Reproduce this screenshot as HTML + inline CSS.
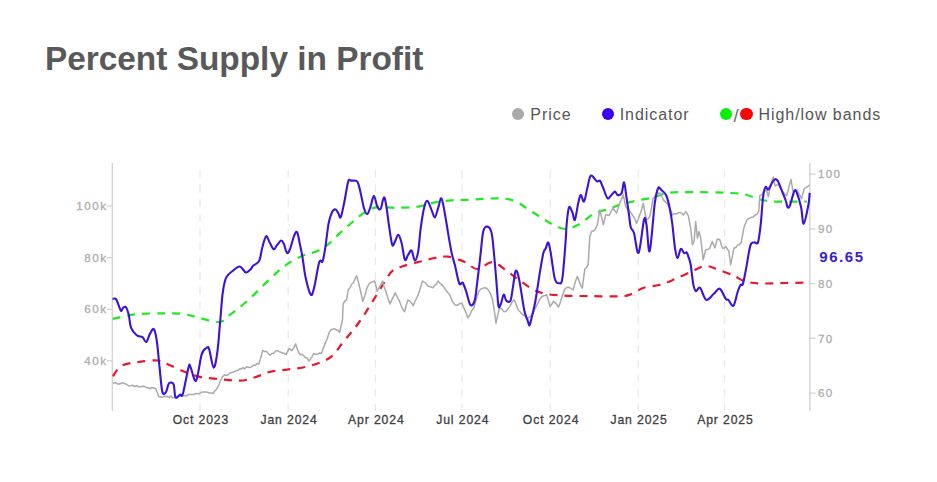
<!DOCTYPE html>
<html><head><meta charset="utf-8"><style>
html,body{margin:0;padding:0;background:#fff;width:937px;height:482px;overflow:hidden;position:relative;font-family:"Liberation Sans", sans-serif;}
.title{position:absolute;left:44.9px;top:37.2px;font-size:33.4px;letter-spacing:0px;font-weight:bold;color:#595959;white-space:nowrap;line-height:44px;}
.leg{position:absolute;top:104.8px;font-size:16px;letter-spacing:0.95px;color:#555;white-space:nowrap;line-height:20px;}
.dot{position:absolute;width:12.2px;height:12.2px;border-radius:50%;top:107.8px;}
</style></head><body>
<div class="title">Percent Supply in Profit</div>
<div class="dot" style="left:511.8px;background:#aaaaaa"></div>
<div class="leg" style="left:530.3px">Price</div>
<div class="dot" style="left:601.7px;background:#3a00f2"></div>
<div class="leg" style="left:619.7px">Indicator</div>
<div class="dot" style="left:720px;background:#08f008"></div>
<div class="leg" style="left:733.4px;top:105.6px;font-size:18.5px;color:#6a6a6a;letter-spacing:0">/</div>
<div class="dot" style="left:740.4px;background:#fa0505"></div>
<div class="leg" style="left:758.5px">High/low bands</div>
<svg width="937" height="482" viewBox="0 0 937 482" style="position:absolute;left:0;top:0"><line x1="200" y1="170" x2="200" y2="411" stroke="#e9e9e9" stroke-width="1.3" stroke-dasharray="7.8,6.8"/><line x1="288.2" y1="170" x2="288.2" y2="411" stroke="#e9e9e9" stroke-width="1.3" stroke-dasharray="7.8,6.8"/><line x1="375.4" y1="170" x2="375.4" y2="411" stroke="#e9e9e9" stroke-width="1.3" stroke-dasharray="7.8,6.8"/><line x1="461.9" y1="170" x2="461.9" y2="411" stroke="#e9e9e9" stroke-width="1.3" stroke-dasharray="7.8,6.8"/><line x1="550.2" y1="170" x2="550.2" y2="411" stroke="#e9e9e9" stroke-width="1.3" stroke-dasharray="7.8,6.8"/><line x1="638.2" y1="170" x2="638.2" y2="411" stroke="#e9e9e9" stroke-width="1.3" stroke-dasharray="7.8,6.8"/><line x1="724.5" y1="170" x2="724.5" y2="411" stroke="#e9e9e9" stroke-width="1.3" stroke-dasharray="7.8,6.8"/><line x1="112.3" y1="163" x2="112.3" y2="411" stroke="#d4d4d4" stroke-width="1.4"/><line x1="809.8" y1="163" x2="809.8" y2="411" stroke="#d4d4d4" stroke-width="1.4"/><line x1="107" y1="205.9" x2="112" y2="205.9" stroke="#cfcfcf" stroke-width="1.2"/><text x="107.5" y="210.1" text-anchor="end" font-family='"Liberation Sans", sans-serif' font-size="11.6" fill="#adadad" stroke="#adadad" stroke-width="0.3" letter-spacing="1.55">100k</text><line x1="107" y1="257.6" x2="112" y2="257.6" stroke="#cfcfcf" stroke-width="1.2"/><text x="107.5" y="261.8" text-anchor="end" font-family='"Liberation Sans", sans-serif' font-size="11.6" fill="#adadad" stroke="#adadad" stroke-width="0.3" letter-spacing="1.55">80k</text><line x1="107" y1="309.2" x2="112" y2="309.2" stroke="#cfcfcf" stroke-width="1.2"/><text x="107.5" y="313.4" text-anchor="end" font-family='"Liberation Sans", sans-serif' font-size="11.6" fill="#adadad" stroke="#adadad" stroke-width="0.3" letter-spacing="1.55">60k</text><line x1="107" y1="360.9" x2="112" y2="360.9" stroke="#cfcfcf" stroke-width="1.2"/><text x="107.5" y="365.09999999999997" text-anchor="end" font-family='"Liberation Sans", sans-serif' font-size="11.6" fill="#adadad" stroke="#adadad" stroke-width="0.3" letter-spacing="1.55">40k</text><line x1="810" y1="174.1" x2="815.5" y2="174.1" stroke="#cfcfcf" stroke-width="1.2"/><text x="818" y="178.29999999999998" font-family='"Liberation Sans", sans-serif' font-size="11.6" fill="#adadad" stroke="#adadad" stroke-width="0.3" letter-spacing="1.3">100</text><line x1="810" y1="228.9" x2="815.5" y2="228.9" stroke="#cfcfcf" stroke-width="1.2"/><text x="818" y="233.1" font-family='"Liberation Sans", sans-serif' font-size="11.6" fill="#adadad" stroke="#adadad" stroke-width="0.3" letter-spacing="1.3">90</text><line x1="810" y1="283.6" x2="815.5" y2="283.6" stroke="#cfcfcf" stroke-width="1.2"/><text x="818" y="287.8" font-family='"Liberation Sans", sans-serif' font-size="11.6" fill="#adadad" stroke="#adadad" stroke-width="0.3" letter-spacing="1.3">80</text><line x1="810" y1="338.3" x2="815.5" y2="338.3" stroke="#cfcfcf" stroke-width="1.2"/><text x="818" y="342.5" font-family='"Liberation Sans", sans-serif' font-size="11.6" fill="#adadad" stroke="#adadad" stroke-width="0.3" letter-spacing="1.3">70</text><line x1="810" y1="393.1" x2="815.5" y2="393.1" stroke="#cfcfcf" stroke-width="1.2"/><text x="818" y="397.3" font-family='"Liberation Sans", sans-serif' font-size="11.6" fill="#adadad" stroke="#adadad" stroke-width="0.3" letter-spacing="1.3">60</text><text x="200.9" y="423.6" text-anchor="middle" font-family='"Liberation Sans", sans-serif' font-size="12.2" fill="#404040" stroke="#404040" stroke-width="0.3" letter-spacing="0.88">Oct 2023</text><text x="289.09999999999997" y="423.6" text-anchor="middle" font-family='"Liberation Sans", sans-serif' font-size="12.2" fill="#404040" stroke="#404040" stroke-width="0.3" letter-spacing="0.88">Jan 2024</text><text x="376.29999999999995" y="423.6" text-anchor="middle" font-family='"Liberation Sans", sans-serif' font-size="12.2" fill="#404040" stroke="#404040" stroke-width="0.3" letter-spacing="0.88">Apr 2024</text><text x="462.79999999999995" y="423.6" text-anchor="middle" font-family='"Liberation Sans", sans-serif' font-size="12.2" fill="#404040" stroke="#404040" stroke-width="0.3" letter-spacing="0.88">Jul 2024</text><text x="551.1" y="423.6" text-anchor="middle" font-family='"Liberation Sans", sans-serif' font-size="12.2" fill="#404040" stroke="#404040" stroke-width="0.3" letter-spacing="0.88">Oct 2024</text><text x="639.1" y="423.6" text-anchor="middle" font-family='"Liberation Sans", sans-serif' font-size="12.2" fill="#404040" stroke="#404040" stroke-width="0.3" letter-spacing="0.88">Jan 2025</text><text x="725.4" y="423.6" text-anchor="middle" font-family='"Liberation Sans", sans-serif' font-size="12.2" fill="#404040" stroke="#404040" stroke-width="0.3" letter-spacing="0.88">Apr 2025</text><path d="M112.9,376.3 C114.3,374.6 117.2,368.2 121.5,365.8 C125.8,363.4 132.6,362.9 138.6,362.0 C144.6,361.1 152.3,359.9 157.7,360.5 C163.1,361.1 166.3,363.8 171.1,365.8 C175.9,367.8 181.6,370.6 186.4,372.5 C191.2,374.4 194.6,375.8 199.7,376.9 C204.8,377.9 210.2,378.2 216.9,378.8 C223.6,379.4 233.4,380.9 239.8,380.7 C246.2,380.4 250.2,378.8 255.1,377.3 C260.1,375.9 264.2,373.3 269.5,372.0 C274.8,370.7 281.0,370.5 287.1,369.6 C293.2,368.7 300.5,368.1 306.2,366.8 C311.9,365.5 317.1,363.9 321.5,362.0 C325.9,360.1 329.4,358.5 332.9,355.3 C336.4,352.1 339.3,346.9 342.5,342.9 C345.7,338.9 349.1,335.1 352.0,331.5 C354.9,327.9 356.9,325.4 360.0,321.0 C363.1,316.6 366.5,311.3 370.5,304.9 C374.5,298.5 380.4,288.4 384.1,282.7 C387.8,277.0 389.3,273.5 392.7,270.7 C396.1,267.9 399.8,267.2 404.6,265.6 C409.4,264.0 416.5,262.6 421.5,261.3 C426.5,260.0 430.4,258.8 434.8,258.0 C439.2,257.2 443.1,256.0 448.2,256.7 C453.3,257.4 460.5,260.1 465.3,262.2 C470.1,264.2 472.6,269.0 477.2,269.0 C481.8,269.0 487.8,261.9 492.6,262.2 C497.5,262.5 502.0,267.8 506.3,270.7 C510.6,273.6 513.9,276.3 518.2,279.3 C522.5,282.3 527.4,286.3 531.9,288.7 C536.4,291.1 540.4,292.7 545.5,293.8 C550.6,294.9 555.2,295.1 562.6,295.5 C570.0,295.9 580.5,296.0 589.8,296.1 C599.1,296.2 611.5,296.6 618.2,296.4 C624.9,296.1 625.8,296.0 630.1,294.6 C634.4,293.2 638.7,289.5 643.8,287.8 C648.9,286.1 655.7,286.1 660.8,284.7 C665.9,283.3 669.4,281.5 674.5,279.3 C679.6,277.1 686.5,273.8 691.6,271.6 C696.7,269.4 700.7,266.3 705.2,266.0 C709.8,265.7 714.0,268.2 718.9,269.9 C723.8,271.5 730.3,274.1 734.3,275.9 C738.3,277.7 739.1,279.4 743.1,280.6 C747.1,281.9 750.9,283.0 758.0,283.4 C765.1,283.8 777.6,283.1 786.0,283.0 C794.4,282.9 804.7,282.6 808.4,282.5" fill="none" stroke="#e8172f" stroke-width="2.2" stroke-dasharray="8,7"/><path d="M112.6,318.9 C116.4,318.1 127.5,315.2 135.6,314.3 C143.7,313.4 153.5,313.5 161.2,313.4 C168.9,313.3 175.4,313.1 181.7,313.8 C188.0,314.5 192.5,316.3 198.8,317.7 C205.1,319.1 214.2,322.4 219.3,322.0 C224.4,321.6 224.9,318.5 229.5,315.1 C234.1,311.7 240.0,307.3 246.6,301.5 C253.2,295.7 262.4,286.1 268.8,280.1 C275.2,274.1 279.6,269.6 285.1,265.6 C290.6,261.6 296.6,258.5 301.9,256.1 C307.2,253.7 312.5,253.2 316.8,251.3 C321.1,249.4 323.6,247.9 327.5,244.9 C331.4,241.9 335.6,237.0 339.9,233.1 C344.2,229.2 349.0,225.0 353.2,221.5 C357.4,218.0 360.9,214.7 364.8,212.3 C368.7,209.9 371.1,208.1 376.4,207.3 C381.6,206.6 389.3,207.9 396.3,207.8 C403.3,207.7 411.8,207.5 418.2,206.6 C424.6,205.7 429.3,203.4 434.8,202.4 C440.3,201.4 445.8,200.7 451.4,200.3 C457.0,199.9 461.0,200.1 468.7,199.8 C476.4,199.5 490.0,198.2 497.7,198.4 C505.4,198.6 509.7,199.2 514.8,201.0 C519.9,202.8 524.0,206.7 528.5,209.5 C533.0,212.3 538.0,215.5 542.1,218.1 C546.2,220.7 549.5,223.0 553.3,224.8 C557.1,226.6 560.8,229.0 564.9,229.0 C569.0,229.0 573.2,227.4 578.2,224.8 C583.2,222.2 589.5,215.8 594.8,213.2 C600.0,210.6 605.8,210.3 609.7,209.0 C613.6,207.7 614.0,206.6 618.2,205.3 C622.5,204.0 629.5,202.3 635.2,201.0 C640.9,199.7 646.6,199.0 652.3,197.6 C658.0,196.2 662.3,193.7 669.4,192.8 C676.5,191.9 684.9,192.1 695.0,192.1 C705.1,192.1 721.8,192.5 730.0,192.9 C738.2,193.3 739.6,193.3 744.4,194.3 C749.2,195.3 754.0,197.9 758.8,199.1 C763.6,200.3 765.2,201.1 773.2,201.5 C781.2,201.9 801.2,201.5 806.8,201.5" fill="none" stroke="#1fe81f" stroke-width="2.2" stroke-dasharray="8,7"/><polyline points="112.9,383.0 114.6,382.9 116.2,382.7 117.8,384.1 119.5,384.0 121.9,382.8 124.3,383.4 126.7,384.7 129.1,385.9 131.0,385.8 132.9,385.3 134.8,386.5 136.7,385.6 138.6,386.8 140.5,386.9 142.4,386.3 144.4,386.5 146.3,387.4 148.2,387.8 150.1,388.7 152.0,387.4 153.9,387.9 155.8,388.7 158.7,396.4 160.4,396.7 162.1,397.4 163.9,396.6 165.6,396.2 167.3,396.4 169.2,397.7 171.1,395.9 173.0,397.9 174.9,397.3 176.8,396.6 178.8,396.1 180.7,395.8 182.6,396.4 184.5,395.5 186.4,396.1 188.3,394.3 190.2,394.5 192.1,394.5 194.0,394.4 195.9,393.6 197.8,393.8 199.7,393.5 201.6,392.2 203.6,391.9 205.5,391.9 207.4,392.2 209.3,393.0 211.2,392.9 213.1,393.5 215.0,390.7 216.9,388.7 218.8,384.8 220.8,380.3 222.7,376.3 224.6,375.1 226.5,375.4 228.4,374.5 230.3,372.7 232.2,372.5 234.1,371.7 236.0,370.7 237.9,370.5 239.8,368.7 241.4,368.9 243.1,367.7 244.7,368.9 246.4,366.8 248.0,367.2 249.7,367.6 251.3,366.8 253.2,365.3 255.1,365.3 257.0,363.6 258.9,363.9 260.8,357.6 262.7,350.5 264.6,351.6 266.6,351.5 268.3,353.6 270.0,355.3 271.8,353.4 273.7,353.3 275.6,351.1 277.5,350.5 279.2,351.7 280.9,352.3 282.7,353.0 284.4,353.5 286.1,354.4 289.0,348.6 291.9,350.5 293.8,347.9 295.7,343.9 298.5,352.5 300.1,354.4 301.7,354.3 303.3,355.3 305.2,357.6 307.1,358.1 309.0,361.0 310.6,358.9 312.2,356.3 313.8,353.4 315.7,354.5 317.6,354.1 319.6,352.9 321.5,353.4 323.4,347.9 325.3,342.9 327.2,338.8 329.1,332.9 331.0,329.5 332.6,329.4 334.2,328.8 335.8,329.5 337.7,330.1 339.6,332.4 342.5,320.0 343.1,304.0 344.9,300.9 346.6,299.8 348.3,289.5 350.0,287.8 351.7,284.2 353.4,282.7 355.1,278.7 356.8,275.9 358.5,282.5 360.2,289.5 362.8,301.5 364.9,295.5 367.0,287.8 368.8,284.3 370.5,282.7 372.6,281.7 374.7,281.0 377.3,291.2 379.0,287.9 380.7,285.2 382.4,281.0 384.1,286.8 385.8,291.2 388.0,298.4 390.1,304.0 391.8,299.8 393.5,296.4 395.2,292.9 397.8,298.1 399.5,301.2 401.2,305.7 402.9,309.3 404.6,311.7 406.3,305.0 408.0,299.8 409.7,301.1 411.5,303.1 413.2,305.7 414.9,301.4 416.6,298.3 418.3,294.6 420.4,288.0 422.5,281.0 424.2,282.2 426.0,283.3 427.7,286.1 429.4,286.5 431.1,286.9 432.8,287.8 434.5,285.7 436.3,284.3 438.0,281.0 439.7,283.1 441.4,284.4 443.1,286.1 444.8,288.6 446.5,291.0 448.2,292.9 449.9,294.9 451.6,299.8 453.3,302.5 455.0,304.9 456.7,305.3 458.4,304.7 460.2,303.4 461.9,303.2 463.9,307.9 465.8,312.1 467.8,317.9 469.8,315.0 471.8,310.5 473.8,308.3 475.5,301.6 477.2,296.3 478.9,291.2 480.6,289.3 482.4,288.6 484.1,287.8 485.8,287.9 487.5,289.0 489.2,291.2 490.9,294.7 492.6,299.8 494.3,310.6 496.0,323.1 497.7,315.4 499.4,308.3 501.4,308.4 503.4,311.4 505.4,311.7 507.5,309.4 509.7,306.6 511.9,302.4 514.0,299.8 516.1,304.4 518.2,310.0 519.9,311.5 521.6,313.7 523.3,315.0 525.1,316.1 526.8,318.6 528.8,317.6 530.7,316.2 532.7,313.4 534.7,309.4 536.7,305.4 538.7,301.5 540.0,298.9 541.6,297.0 543.3,296.0 545.0,295.5 546.6,294.8 548.3,300.1 550.0,306.4 551.6,304.6 553.3,301.4 555.0,302.6 556.6,304.2 558.3,307.2 560.0,303.6 561.6,298.1 563.2,293.6 564.9,289.0 567.0,287.4 569.0,287.3 571.1,288.6 573.2,289.8 575.2,282.1 577.3,276.5 579.0,280.4 580.6,285.3 582.3,288.1 584.8,269.0 586.5,267.7 588.1,264.9 589.8,236.4 591.5,231.5 593.1,231.1 594.8,229.8 597.3,224.8 599.8,209.9 601.5,216.8 603.3,224.8 605.8,214.8 607.5,214.9 609.1,215.6 611.2,211.2 613.3,208.2 615.0,211.2 616.6,213.1 619.1,204.8 621.2,199.9 623.2,194.9 625.7,206.5 627.4,209.2 629.0,210.6 630.7,212.3 632.4,214.8 634.5,218.3 636.5,223.1 638.1,219.6 639.8,214.8 641.5,210.1 643.2,203.2 644.9,212.3 646.5,219.8 648.1,218.8 649.8,216.5 651.5,208.1 653.1,198.2 654.8,196.6 656.4,194.0 658.5,193.0 660.6,193.2 662.2,197.0 663.9,200.7 666.0,202.4 668.0,204.8 670.2,208.8 672.5,214.9 674.5,213.5 676.6,214.1 678.3,212.8 680.0,212.4 681.6,213.1 683.3,214.9 685.8,211.6 688.3,215.7 690.7,228.2 692.4,244.8 694.1,241.5 695.7,221.6 697.4,238.2 699.0,231.5 700.7,238.2 703.2,259.7 705.7,249.8 707.8,249.4 709.8,248.1 712.3,241.5 714.8,248.1 717.3,239.0 719.8,239.8 722.3,248.1 724.0,248.3 725.6,246.5 727.2,248.8 728.9,251.4 730.6,264.7 732.2,257.4 733.9,248.1 735.7,247.7 737.5,245.1 739.4,244.7 741.2,242.3 744.0,227.4 746.8,219.9 748.4,218.9 750.0,217.9 751.7,217.2 753.3,217.1 755.2,215.0 757.1,214.3 758.8,211.0 759.8,195.7 762.7,193.8 764.6,191.2 766.5,190.0 768.4,196.7 770.3,187.1 773.2,177.0 775.1,186.1 778.0,184.2 780.0,187.4 781.9,190.0 783.5,192.8 785.1,194.5 786.7,195.7 789.6,184.2 791.0,179.4 792.9,190.9 795.0,190.4 797.2,190.0 799.4,194.6 801.6,198.6 804.0,189.0 806.8,187.1 809.7,185.2" fill="none" stroke="#aaaaaa" stroke-width="1.5" stroke-linejoin="round"/><path d="M112.6,298.9 C113.2,298.9 115.0,297.9 116.0,298.9 C117.0,299.9 117.7,302.9 118.5,304.9 C119.3,306.9 120.3,310.5 121.1,310.9 C121.9,311.3 122.4,308.1 123.3,307.5 C124.2,306.9 125.3,306.2 126.2,307.5 C127.1,308.8 128.0,311.8 128.8,315.1 C129.6,318.5 129.7,324.2 131.0,327.6 C132.3,331.0 134.8,333.7 136.7,335.3 C138.6,336.9 140.9,336.1 142.5,337.2 C144.1,338.3 145.0,342.6 146.3,342.0 C147.6,341.4 148.8,335.5 150.1,333.4 C151.4,331.3 152.8,327.9 153.9,329.2 C155.0,330.5 155.9,334.6 156.8,341.0 C157.8,347.4 158.7,359.2 159.6,367.7 C160.5,376.2 161.3,387.9 162.4,391.9 C163.5,395.9 165.0,393.3 166.1,391.9 C167.2,390.5 167.7,384.6 168.9,383.4 C170.2,382.1 172.5,382.1 173.6,384.4 C174.7,386.7 174.4,395.7 175.5,397.4 C176.6,399.1 178.9,395.3 180.1,394.7 C181.3,394.1 181.5,398.2 182.9,393.7 C184.3,389.2 187.2,372.1 188.5,367.6 C189.8,363.1 189.2,364.5 190.4,366.7 C191.7,368.9 194.1,382.7 196.0,380.7 C197.9,378.7 199.9,360.1 201.6,354.6 C203.3,349.2 205.1,348.9 206.3,348.0 C207.6,347.1 207.9,345.7 209.1,349.0 C210.3,352.3 212.3,367.3 213.7,367.6 C215.1,367.9 216.4,358.7 217.5,350.8 C218.6,342.9 219.4,329.6 220.3,320.0 C221.2,310.4 221.7,300.1 222.7,293.0 C223.7,285.9 224.4,281.3 226.1,277.6 C227.8,273.9 230.7,272.6 233.0,270.7 C235.3,268.8 237.7,266.2 239.8,266.5 C241.9,266.8 244.1,271.8 245.8,272.4 C247.5,273.0 248.7,271.0 250.0,269.9 C251.3,268.8 251.9,267.1 253.4,265.6 C254.9,264.1 257.7,264.0 259.2,260.9 C260.7,257.8 261.2,251.1 262.4,247.0 C263.5,242.9 265.0,237.2 266.1,236.3 C267.2,235.4 268.1,239.5 269.3,241.7 C270.6,243.8 272.4,248.6 273.6,249.2 C274.9,249.8 275.6,246.8 276.8,245.4 C278.1,244.0 279.9,240.9 281.1,240.6 C282.3,240.3 282.8,241.8 283.8,243.8 C284.8,245.9 285.9,252.1 287.0,252.9 C288.1,253.7 289.1,251.4 290.2,248.6 C291.3,245.8 292.8,239.1 293.9,236.3 C295.0,233.6 296.1,230.8 297.1,232.1 C298.1,233.3 298.9,239.7 299.8,243.8 C300.7,247.9 301.4,251.0 302.4,256.6 C303.4,262.2 304.2,271.3 305.6,277.6 C307.0,283.9 309.3,292.9 310.7,294.6 C312.1,296.3 312.7,293.2 314.1,287.8 C315.5,282.4 317.8,266.6 319.2,262.2 C320.6,257.8 321.6,263.8 322.6,261.3 C323.6,258.8 324.4,253.3 325.4,247.0 C326.4,240.7 327.4,229.4 328.6,223.5 C329.8,217.6 331.2,213.8 332.4,211.5 C333.6,209.2 334.8,209.2 335.8,209.5 C336.8,209.8 337.5,211.9 338.3,213.2 C339.1,214.5 339.7,219.0 340.7,217.3 C341.7,215.6 342.9,209.1 344.1,203.2 C345.4,197.2 347.0,185.3 348.2,181.6 C349.4,177.9 350.0,180.8 351.5,180.8 C353.0,180.8 355.8,179.5 357.3,181.6 C358.8,183.7 359.6,188.8 360.7,193.2 C361.8,197.6 362.9,204.7 364.0,208.2 C365.1,211.7 366.2,214.3 367.3,214.0 C368.4,213.7 369.5,209.6 370.6,206.5 C371.7,203.4 372.8,195.7 373.9,195.7 C375.0,195.7 376.2,204.3 377.3,206.5 C378.4,208.7 379.5,210.5 380.6,209.0 C381.7,207.5 382.9,197.8 383.9,197.4 C384.9,197.0 385.6,201.9 386.4,206.5 C387.2,211.1 387.9,218.4 388.9,224.8 C389.9,231.2 391.2,241.9 392.2,244.7 C393.2,247.5 394.0,243.1 395.0,241.4 C396.0,239.8 397.2,234.5 398.3,234.8 C399.4,235.1 400.5,238.9 401.6,243.1 C402.7,247.2 403.8,257.8 404.9,259.7 C406.0,261.6 407.1,256.2 408.2,254.7 C409.3,253.2 410.5,249.6 411.6,250.6 C412.7,251.6 413.8,260.4 414.9,260.5 C416.0,260.6 417.2,256.8 418.2,251.4 C419.2,246.0 419.7,235.4 420.7,228.2 C421.7,221.0 422.9,212.8 424.0,208.2 C425.1,203.6 426.1,200.5 427.3,200.8 C428.6,201.1 430.2,207.1 431.5,209.9 C432.8,212.7 433.7,217.7 434.8,217.4 C435.9,217.1 437.0,211.4 438.1,208.2 C439.2,205.0 440.3,197.5 441.4,198.3 C442.5,199.1 443.7,207.4 444.8,213.2 C445.9,219.0 447.0,226.5 448.1,233.1 C449.2,239.7 450.5,247.4 451.6,252.8 C452.8,258.2 453.7,260.5 455.0,265.6 C456.3,270.7 458.0,280.6 459.3,283.5 C460.6,286.4 461.6,281.4 462.7,282.7 C463.8,284.0 464.8,287.5 466.1,291.2 C467.4,294.9 469.0,303.3 470.4,304.9 C471.8,306.5 473.6,304.3 474.7,300.6 C475.8,296.9 476.2,290.5 477.2,282.7 C478.2,274.9 479.6,262.2 480.6,253.7 C481.6,245.2 482.1,236.2 483.2,231.7 C484.3,227.2 486.1,226.3 487.5,226.6 C488.9,226.9 490.6,228.3 491.7,233.4 C492.8,238.5 493.4,248.0 494.3,257.1 C495.2,266.2 496.2,279.6 496.9,287.8 C497.6,296.1 497.9,304.0 498.6,306.6 C499.3,309.2 500.2,305.2 501.1,303.2 C502.0,301.2 502.8,295.0 503.7,294.6 C504.6,294.2 505.2,299.6 506.3,300.6 C507.4,301.6 509.4,303.0 510.5,300.6 C511.6,298.2 512.2,291.1 513.1,286.1 C514.0,281.1 514.7,271.8 515.7,270.7 C516.7,269.6 517.7,272.8 519.1,279.3 C520.5,285.9 522.8,303.2 524.2,310.0 C525.6,316.8 526.8,317.7 527.6,320.3 C528.5,322.9 528.7,325.6 529.3,325.6 C529.9,325.6 530.0,324.3 531.0,320.3 C532.0,316.3 533.9,309.2 535.3,301.5 C536.7,293.8 538.3,282.2 539.6,274.2 C540.9,266.2 542.3,257.6 543.3,253.3 C544.3,249.0 545.0,250.1 545.8,248.3 C546.6,246.5 547.5,241.7 548.3,242.5 C549.1,243.3 549.7,247.2 550.8,253.3 C551.9,259.4 553.5,274.0 554.9,279.0 C556.3,284.0 557.9,283.3 559.1,283.2 C560.4,283.1 561.3,285.4 562.4,278.2 C563.5,271.0 565.0,248.9 565.7,240.0 C566.4,231.1 566.1,230.2 566.6,224.8 C567.1,219.4 568.0,209.5 569.0,207.4 C570.0,205.3 571.4,210.3 572.4,212.4 C573.4,214.5 573.9,221.3 574.9,219.8 C575.9,218.3 577.2,207.3 578.2,203.2 C579.2,199.0 579.7,195.2 580.7,194.9 C581.7,194.6 582.9,202.7 584.0,201.6 C585.1,200.5 586.2,192.6 587.3,188.3 C588.4,184.0 589.2,176.9 590.8,175.7 C592.4,174.5 595.3,180.5 596.8,181.3 C598.3,182.2 598.9,179.7 600.0,180.8 C601.1,182.0 602.0,185.3 603.3,188.2 C604.5,191.1 606.2,196.9 607.5,198.2 C608.8,199.4 609.6,196.8 610.8,195.7 C612.0,194.6 613.8,191.7 614.9,191.6 C616.0,191.5 616.3,194.6 617.4,194.9 C618.5,195.2 620.5,195.3 621.6,193.2 C622.7,191.1 623.3,181.6 624.1,182.4 C624.9,183.2 625.8,192.8 626.6,198.2 C627.4,203.6 628.3,210.0 629.0,214.8 C629.7,219.6 629.9,224.2 630.7,227.2 C631.5,230.2 632.7,228.7 634.0,233.0 C635.3,237.3 636.9,255.0 638.6,252.8 C640.3,250.6 642.7,224.5 644.0,219.8 C645.3,215.1 645.5,219.6 646.5,224.8 C647.5,230.0 648.3,254.7 649.7,251.1 C651.1,247.5 653.4,213.7 654.8,203.2 C656.2,192.7 657.0,190.4 658.1,188.2 C659.2,186.0 660.0,188.7 661.4,189.9 C662.8,191.2 665.0,192.6 666.4,195.7 C667.8,198.8 668.7,203.6 669.7,208.2 C670.7,212.8 671.3,216.4 672.2,223.1 C673.1,229.8 674.1,242.3 675.0,248.1 C675.9,253.9 676.5,258.0 677.5,258.1 C678.5,258.2 679.7,249.7 680.8,248.9 C681.9,248.1 683.1,252.5 684.1,253.1 C685.1,253.7 685.9,251.8 686.6,252.3 C687.3,252.9 687.6,254.3 688.3,256.4 C689.0,258.5 689.9,260.0 690.7,264.7 C691.5,269.4 692.4,280.0 693.3,284.4 C694.2,288.8 694.8,290.6 695.9,291.2 C697.0,291.8 698.4,286.4 700.1,287.8 C701.8,289.2 703.8,298.8 706.1,299.8 C708.4,300.8 711.5,295.7 713.8,293.8 C716.1,291.9 717.8,287.9 719.8,288.7 C721.8,289.5 724.3,297.0 725.7,298.9 C727.1,300.8 727.0,298.7 728.3,299.8 C729.6,300.9 731.8,307.0 733.4,305.7 C735.0,304.4 736.4,295.4 737.6,292.0 C738.8,288.6 739.6,286.4 740.5,285.0 C741.4,283.6 742.1,286.8 743.1,283.4 C744.1,280.0 745.6,271.1 746.8,264.7 C748.0,258.3 749.2,248.8 750.5,245.1 C751.8,241.4 753.0,242.8 754.3,242.3 C755.5,241.8 756.9,245.4 758.0,242.3 C759.1,239.2 759.9,231.3 760.8,223.7 C761.6,216.1 762.3,202.8 763.1,196.7 C763.9,190.6 764.6,188.3 765.5,187.1 C766.4,185.9 767.3,190.3 768.4,189.5 C769.5,188.7 771.2,184.0 772.3,182.3 C773.4,180.6 774.1,179.4 775.1,179.2 C776.1,179.0 776.9,179.4 778.0,181.3 C779.1,183.2 780.6,187.7 781.9,190.9 C783.2,194.1 784.8,197.8 785.7,200.5 C786.7,203.2 786.9,206.5 787.6,207.3 C788.3,208.1 788.9,208.0 790.0,205.3 C791.1,202.6 793.2,192.8 794.4,190.9 C795.6,189.0 796.1,191.1 797.2,193.8 C798.3,196.5 800.0,202.3 801.1,207.3 C802.2,212.3 802.5,224.1 803.7,223.7 C804.9,223.3 807.4,210.1 808.4,205.0 C809.4,199.9 809.5,194.9 809.7,192.9" fill="none" stroke="#3d12d8" stroke-width="2.1" stroke-linejoin="round"/><text x="819.3" y="262.1" font-family='"Liberation Sans", sans-serif' font-size="15" font-weight="bold" fill="#3b1ec8" letter-spacing="1.55">96.65</text></svg>
</body></html>
